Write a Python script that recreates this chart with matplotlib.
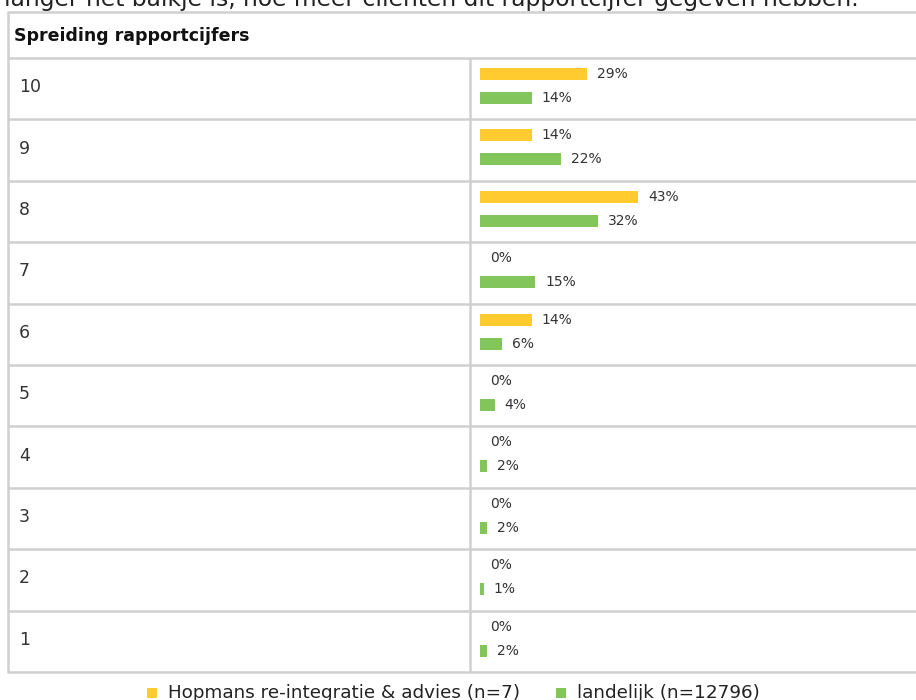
import matplotlib.pyplot as plt
from matplotlib.patches import Rectangle

# rapportcijfers, top row first
cijfers = ["10", "9", "8", "7", "6", "5", "4", "3", "2", "1"]
hopmans = [29, 14, 43, 0, 14, 0, 0, 0, 0, 0]
landelijk = [14, 22, 32, 15, 6, 4, 2, 2, 1, 2]

titel = "Spreiding rapportcijfers"
intro = "langer het balkje is, hoe meer cliënten dit rapportcijfer gegeven hebben."
naam_hopmans = "Hopmans re-integratie & advies (n=7)"
naam_landelijk = "landelijk (n=12796)"

geel = "#FFCB2F"
groen = "#82C65B"
lijn = "#D0D0D0"
tekst = "#333333"

W, H = 916, 700
fig = plt.figure(figsize=(W / 100, H / 100), dpi=100)

# background layer in pixel coordinates: table grid and texts
bg = fig.add_axes([0, 0, 1, 1])
bg.set_xlim(0, W)
bg.set_ylim(H, 0)
bg.axis("off")

top, head_bot, bottom = 12, 58, 672
row_h = (bottom - head_bot) / len(cijfers)

bg.text(4, 6, intro, fontsize=16.8, color="#222222", va="baseline")

lw = 1.8
bg.plot([8, W], [top, top], color=lijn, lw=lw, solid_capstyle="butt")
for k in range(len(cijfers) + 1):
    y = head_bot + k * row_h
    bg.plot([8, W], [y, y], color=lijn, lw=lw, solid_capstyle="butt")
bg.plot([8, 8], [top - 1, bottom + 1], color=lijn, lw=lw, solid_capstyle="butt")
bg.plot([469.5, 469.5], [head_bot, bottom], color=lijn, lw=lw, solid_capstyle="butt")

bg.text(14, (top + head_bot) / 2 + 1, titel, fontsize=12.5, fontweight="bold",
        color="#111111", va="center")

for k, c in enumerate(cijfers):
    yc = head_bot + (k + 0.5) * row_h - 1.5
    bg.text(19, yc, c, fontsize=12.5, color=tekst, va="center")

# legend
bg.add_patch(Rectangle((147, 688), 10, 10, color=geel, lw=0))
bg.text(168, 693, naam_hopmans, fontsize=13.2, color="#222222", va="center")
bg.add_patch(Rectangle((556, 688), 10, 10, color=groen, lw=0))
bg.text(577, 693, naam_landelijk, fontsize=13.2, color="#222222", va="center")

# bar axes over the right column
x0 = 480
ax = fig.add_axes([x0 / W, (H - bottom) / H, (W - x0) / W, (bottom - head_bot) / H])
ax.set_xlim(0, (W - x0) / 3.68)
ax.set_ylim(len(cijfers) - 0.5, -0.5)
ax.axis("off")

pos = list(range(len(cijfers)))
off_g = (row_h / 2 - 16) / row_h
off_gr = (40 - row_h / 2) / row_h
bh = 12 / row_h

ax.barh([p - off_g for p in pos], hopmans, height=bh, color=geel, lw=0)
ax.barh([p + off_gr for p in pos], landelijk, height=bh, color=groen, lw=0)

for p, v in zip(pos, hopmans):
    ax.annotate(f"{v}%", (v, p - off_g), xytext=(10, 0), textcoords="offset pixels",
                fontsize=10, color=tekst, va="center")
for p, v in zip(pos, landelijk):
    ax.annotate(f"{v}%", (v, p + off_gr), xytext=(10, 0), textcoords="offset pixels",
                fontsize=10, color=tekst, va="center")

fig.savefig("out.png", dpi=100)
